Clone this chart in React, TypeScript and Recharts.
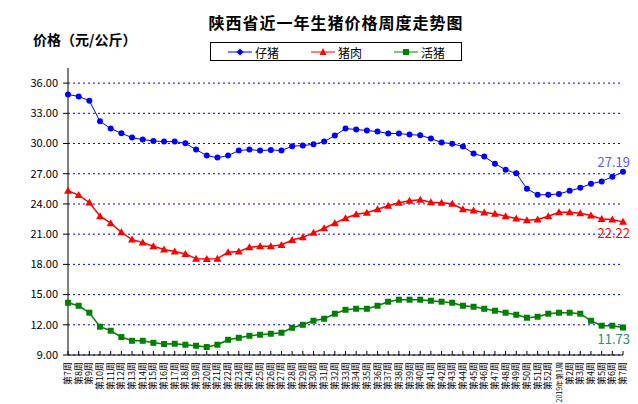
import { CartesianGrid, LabelList, Line, LineChart, XAxis, YAxis } from "recharts";

const weeks = [
  "第7周", "第8周", "第9周", "第10周", "第11周", "第12周", "第13周", "第14周", "第15周", "第16周",
  "第17周", "第18周", "第19周", "第20周", "第21周", "第22周", "第23周", "第24周", "第25周", "第26周",
  "第27周", "第28周", "第29周", "第30周", "第31周", "第32周", "第33周", "第34周", "第35周", "第36周",
  "第37周", "第38周", "第39周", "第40周", "第41周", "第42周", "第43周", "第44周", "第45周", "第46周",
  "第47周", "第48周", "第49周", "第50周", "第51周", "第52周", "2019年第1周", "第2周", "第3周", "第4周",
  "第5周", "第6周", "第7周",
];

const piglet = [
  34.87, 34.68, 34.24, 32.2, 31.49, 31.02, 30.59, 30.39, 30.26, 30.19,
  30.19, 30.02, 29.4, 28.8, 28.6, 28.8, 29.3, 29.4, 29.3, 29.36,
  29.3, 29.73, 29.8, 29.92, 30.19, 30.79, 31.49, 31.39, 31.29, 31.19,
  30.99, 30.99, 30.89, 30.82, 30.49, 30.1, 29.99, 29.7, 29.0, 28.7,
  28.0, 27.4, 27.04, 25.51, 24.91, 24.91, 25.0, 25.3, 25.6, 26.0,
  26.24, 26.7, 27.19,
];

const pork = [
  25.31, 24.88, 24.15, 22.78, 22.09, 21.19, 20.46, 20.16, 19.8, 19.47,
  19.27, 19.04, 18.57, 18.54, 18.57, 19.2, 19.27, 19.7, 19.8, 19.8,
  19.93, 20.43, 20.69, 21.13, 21.59, 22.09, 22.58, 22.98, 23.12, 23.48,
  23.82, 24.12, 24.32, 24.42, 24.18, 24.12, 24.02, 23.48, 23.35, 23.15,
  23.02, 22.78, 22.55, 22.39, 22.45, 22.78, 23.18, 23.18, 23.08, 22.85,
  22.51, 22.45, 22.22,
];

const hog = [
  14.19, 13.89, 13.2, 11.81, 11.41, 10.78, 10.41, 10.41, 10.21, 10.09,
  10.12, 10.02, 9.92, 9.79, 10.02, 10.51, 10.71, 10.91, 11.01, 11.11,
  11.21, 11.71, 12.0, 12.4, 12.6, 13.1, 13.49, 13.59, 13.59, 13.89,
  14.29, 14.49, 14.49, 14.49, 14.39, 14.29, 14.19, 13.89, 13.79, 13.59,
  13.4, 13.2, 13.0, 12.7, 12.8, 13.1, 13.2, 13.2, 13.1, 12.4,
  11.91, 11.91, 11.73,
];

const yTicks = [9, 12, 15, 18, 21, 24, 27, 30, 33, 36];
const yMin = 9;
const yMax = 37.5;

const data = weeks.map((week, i) => ({
  week,
  仔猪: piglet[i],
  猪肉: pork[i],
  活猪: hog[i],
}));

const FONT = "'Noto Sans CJK SC', 'Noto Sans', sans-serif";
const last = weeks.length - 1;

// grid lines only at the labelled ticks, not at the top edge of the plot
function gridRows({ yAxis, offset }: any) {
  return yTicks.map((t) => {
    if (yAxis && typeof yAxis.scale === "function") return yAxis.scale(t);
    return offset.top + (offset.height * (yMax - t)) / (yMax - yMin);
  });
}

function WeekTick(props: any) {
  const { x, y, payload } = props;
  const text = String(payload.value);
  // the one long label would run off the bottom edge, so it is set smaller
  const size = text.length > 5 ? 7 : 9;
  return (
    <text
      transform={`translate(${x + 3},${y}) rotate(-90)`}
      textAnchor="end"
      fontSize={size}
      fontFamily={FONT}
      fill="#000"
    >
      {text}
    </text>
  );
}

const circleDot = (p: any) => (
  <circle key={`c${p.index}`} cx={p.cx} cy={p.cy} r={3} fill="#0000ff" stroke="none" />
);

const triangleDot = (p: any) => (
  <path
    key={`t${p.index}`}
    d={`M${p.cx},${p.cy - 4}L${p.cx + 4},${p.cy + 3}L${p.cx - 4},${p.cy + 3}Z`}
    fill="#ff0000"
    stroke="none"
  />
);

const squareDot = (p: any) => (
  <rect key={`s${p.index}`} x={p.cx - 3} y={p.cy - 3} width={6} height={6} fill="#008000" stroke="none" />
);

function endLabel(color: string, dy: number) {
  return (p: any) => {
    if (p.index !== last) return null;
    return (
      <text
        x={p.x + 7}
        y={p.y + dy}
        textAnchor="end"
        dominantBaseline="central"
        fontSize={13}
        fontFamily={FONT}
        fill={color}
      >
        {Number(p.value).toFixed(2)}
      </text>
    );
  };
}

function LegendItem({ color, label, marker }: { color: string; label: string; marker: string }) {
  return (
    <span style={{ display: "inline-flex", alignItems: "center" }}>
      <svg width={24} height={10} style={{ marginRight: 3 }}>
        <line x1={0} y1={5} x2={24} y2={5} stroke={color} strokeWidth={1} />
        {marker === "circle" && <path d="M12,1.5L15.5,5L12,8.5L8.5,5Z" fill={color} />}
        {marker === "triangle" && <path d="M12,1L15.5,8L8.5,8Z" fill={color} />}
        {marker === "square" && <rect x={9} y={2} width={6} height={6} fill={color} />}
      </svg>
      <span>{label}</span>
    </span>
  );
}

export default function App() {
  return (
    <div style={{ position: "absolute", left: 0, top: 0, width: 638, height: 404, background: "#fff" }}>
      <div
        style={{
          position: "absolute",
          left: 0,
          width: 672,
          top: 11,
          textAlign: "center",
          fontFamily: FONT,
          fontWeight: "bold",
          fontSize: 16,
          letterSpacing: 1,
          lineHeight: "22px",
        }}
      >
        陕西省近一年生猪价格周度走势图
      </div>
      <div
        style={{
          position: "absolute",
          left: 33,
          top: 29,
          fontFamily: FONT,
          fontWeight: "bold",
          fontSize: 14,
          lineHeight: "20px",
        }}
      >
        价格（元/公斤）
      </div>
      <div
        style={{
          position: "absolute",
          left: 210,
          top: 42,
          width: 250,
          height: 17,
          border: "1px solid #000",
          fontFamily: FONT,
          fontSize: 12,
          lineHeight: "17px",
          boxSizing: "content-box",
        }}
      >
        <div style={{ position: "absolute", left: 17 }}>
          <LegendItem color="#0000ff" label="仔猪" marker="circle" />
        </div>
        <div style={{ position: "absolute", left: 100 }}>
          <LegendItem color="#ff0000" label="猪肉" marker="triangle" />
        </div>
        <div style={{ position: "absolute", left: 183 }}>
          <LegendItem color="#008000" label="活猪" marker="square" />
        </div>
      </div>
      <LineChart width={638} height={404} data={data} margin={{ top: 68, right: 15, bottom: 0, left: 0 }}>
        <CartesianGrid
          vertical={false}
          stroke="#0000ff"
          strokeDasharray="2 3"
          horizontalCoordinatesGenerator={gridRows}
        />
        <XAxis
          dataKey="week"
          interval={0}
          height={49}
          stroke="#000"
          tickSize={-4}
          tickMargin={11}
          tick={<WeekTick />}
        />
        <YAxis
          domain={[yMin, yMax]}
          ticks={yTicks}
          width={68}
          stroke="#000"
          tickSize={5}
          tickMargin={5}
          tickFormatter={(v: number) => v.toFixed(2)}
          tick={{ fontSize: 11, fontFamily: FONT, fill: "#000" }}
        />
        <Line
          type="linear"
          dataKey="仔猪"
          stroke="#0000ff"
          strokeWidth={1}
          dot={circleDot}
          activeDot={false}
          isAnimationActive={false}
        >
          <LabelList dataKey="仔猪" content={endLabel("#5a5ae6", -10)} />
        </Line>
        <Line
          type="linear"
          dataKey="猪肉"
          stroke="#ff0000"
          strokeWidth={1.5}
          dot={triangleDot}
          activeDot={false}
          isAnimationActive={false}
        >
          <LabelList dataKey="猪肉" content={endLabel("#ff0000", 11)} />
        </Line>
        <Line
          type="linear"
          dataKey="活猪"
          stroke="#008000"
          strokeWidth={1.5}
          dot={squareDot}
          activeDot={false}
          isAnimationActive={false}
        >
          <LabelList dataKey="活猪" content={endLabel("#2e8b74", 11)} />
        </Line>
      </LineChart>
    </div>
  );
}
